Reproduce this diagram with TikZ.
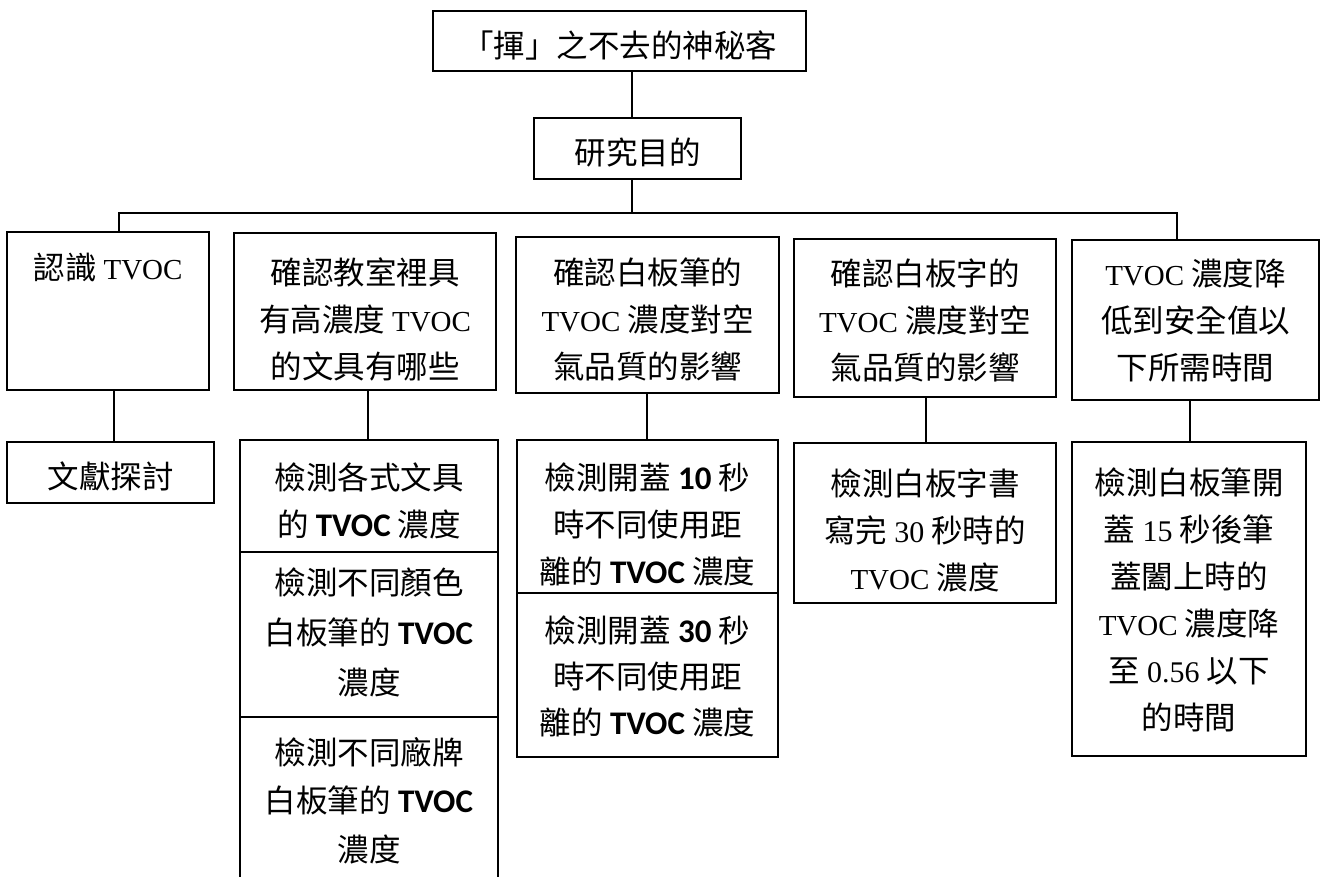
\documentclass[tikz,border=0pt]{standalone}
\usepackage{fontspec}
\setmainfont{Noto Sans CJK TC}
\newfontfamily\tmsfont{Liberation Serif}
\newfontfamily\carlfont{Carlito}
\newcommand\TVs{{\tmsfont\fontsize{29}{47}\selectfont TVOC}}
\newcommand\TVb{{\carlfont\bfseries\fontsize{33}{47}\selectfont TVOC}}
\newcommand\NS[1]{{\tmsfont\fontsize{30}{47}\selectfont #1}}
\newcommand\NB[1]{{\carlfont\bfseries\fontsize{33}{47}\selectfont #1}}
\newcommand\mkbox[5]{\node[box, minimum width={#4-#2}, minimum height={#5-#3}] (#1) at (#2,#3) {};}
\tikzset{
  box/.style={draw, line width=1.1pt, inner sep=0pt, outer sep=0pt, anchor=north west},
  txt/.style={inner sep=0pt, align=center, anchor=north, font=\fontsize{31.5}{47}\selectfont},
  txtc/.style={inner sep=0pt, align=center, anchor=center, yshift=-4pt, font=\fontsize{31.5}{47}\selectfont},
  conn/.style={line width=1.6pt},
}
\begin{document}
\begin{tikzpicture}[x=1pt,y=-1pt]
\clip (0,0) rectangle (1322,877);
\fill[white] (0,0) rectangle (1322,877);
% boxes
\mkbox{top}{433}{11}{806}{71}
\mkbox{obj}{534}{118}{741}{179}
\mkbox{b1}{7}{232}{209}{390}
\mkbox{b2}{234}{233}{496}{390}
\mkbox{b3}{516}{237}{779}{393}
\mkbox{b4}{794}{239}{1056}{397}
\mkbox{b5}{1072}{240}{1319}{400}
\mkbox{c1}{7}{442}{214}{503}
\mkbox{c2a}{240}{440}{498}{552}
\mkbox{c2b}{240}{552}{498}{717}
\mkbox{c2c}{240}{717}{498}{900}
\mkbox{c3a}{517}{440}{778}{593}
\mkbox{c3b}{517}{593}{778}{757}
\mkbox{c4}{794}{443}{1056}{603}
\mkbox{c5}{1072}{442}{1306}{756}
% texts
\node[txtc] (ttop) at (top.center) {「揮」之不去的神秘客};
\node[txtc] (tobj) at (obj.center) {研究目的};
\node[txt] (tb1) at (b1.north |- 0,253) {認識 \TVs};
\node[txt] (tb2) at (b2.north |- 0,258) {確認教室裡具\\有高濃度 \TVs\\的文具有哪些};
\node[txt] (tb3) at (b3.north |- 0,258) {確認白板筆的\\\TVs{} 濃度對空\\氣品質的影響};
\node[txt] (tb4) at (b4.north |- 0,259) {確認白板字的\\\TVs{} 濃度對空\\氣品質的影響};
\node[txt] (tb5) at (b5.north |- 0,259) {\TVs{} 濃度降\\低到安全值以\\下所需時間};
\node[txtc] (tc1) at (c1.center) {文獻探討};
\node[txt] (tc2a) at (c2a.north |- 0,463) {檢測各式文具\\的 \TVb{} 濃度};
\node[txt,font=\fontsize{31.5}{50}\selectfont] (tc2b) at (c2b.north |- 0,568) {檢測不同顏色\\白板筆的 \TVb\\濃度};
\node[txt,font=\fontsize{31.5}{48.5}\selectfont] (tc2c) at (c2c.north |- 0,737) {檢測不同廠牌\\白板筆的 \TVb\\濃度};
\node[txt] (tc3a) at (c3a.north |- 0,463) {檢測開蓋 \NB{10} 秒\\時不同使用距\\離的 \TVb{} 濃度};
\node[txt,font=\fontsize{31.5}{46}\selectfont] (tc3b) at (c3b.north |- 0,616) {檢測開蓋 \NB{30} 秒\\時不同使用距\\離的 \TVb{} 濃度};
\node[txt] (tc4) at (c4.north |- 0,469) {檢測白板字書\\寫完 \NS{30} 秒時的\\\TVs{} 濃度};
\node[txt] (tc5) at (c5.north |- 0,468) {檢測白板筆開\\蓋 \NS{15} 秒後筆\\蓋闔上時的\\\TVs{} 濃度降\\至 \NS{0.56} 以下\\的時間};
% connectors
\coordinate (j0) at (632,0);
\coordinate (hl) at (119,213);
\coordinate (hr) at (1177,213);
\coordinate (k1) at (114,0);
\coordinate (k2) at (368,0);
\coordinate (k3) at (647,0);
\coordinate (k4) at (926,0);
\coordinate (k5) at (1190,0);
\draw[conn] (top.south -| j0) -- (obj.north -| j0);
\draw[conn] (obj.south -| j0) -- (j0 |- hl);
\draw[conn] (b1.north -| hl) -- (hl) -- (hr) -- (b5.north -| hr);
\draw[conn] (b1.south -| k1) -- (c1.north -| k1);
\draw[conn] (b2.south -| k2) -- (c2a.north -| k2);
\draw[conn] (b3.south -| k3) -- (c3a.north -| k3);
\draw[conn] (b4.south -| k4) -- (c4.north -| k4);
\draw[conn] (b5.south -| k5) -- (c5.north -| k5);
\end{tikzpicture}
\end{document}
